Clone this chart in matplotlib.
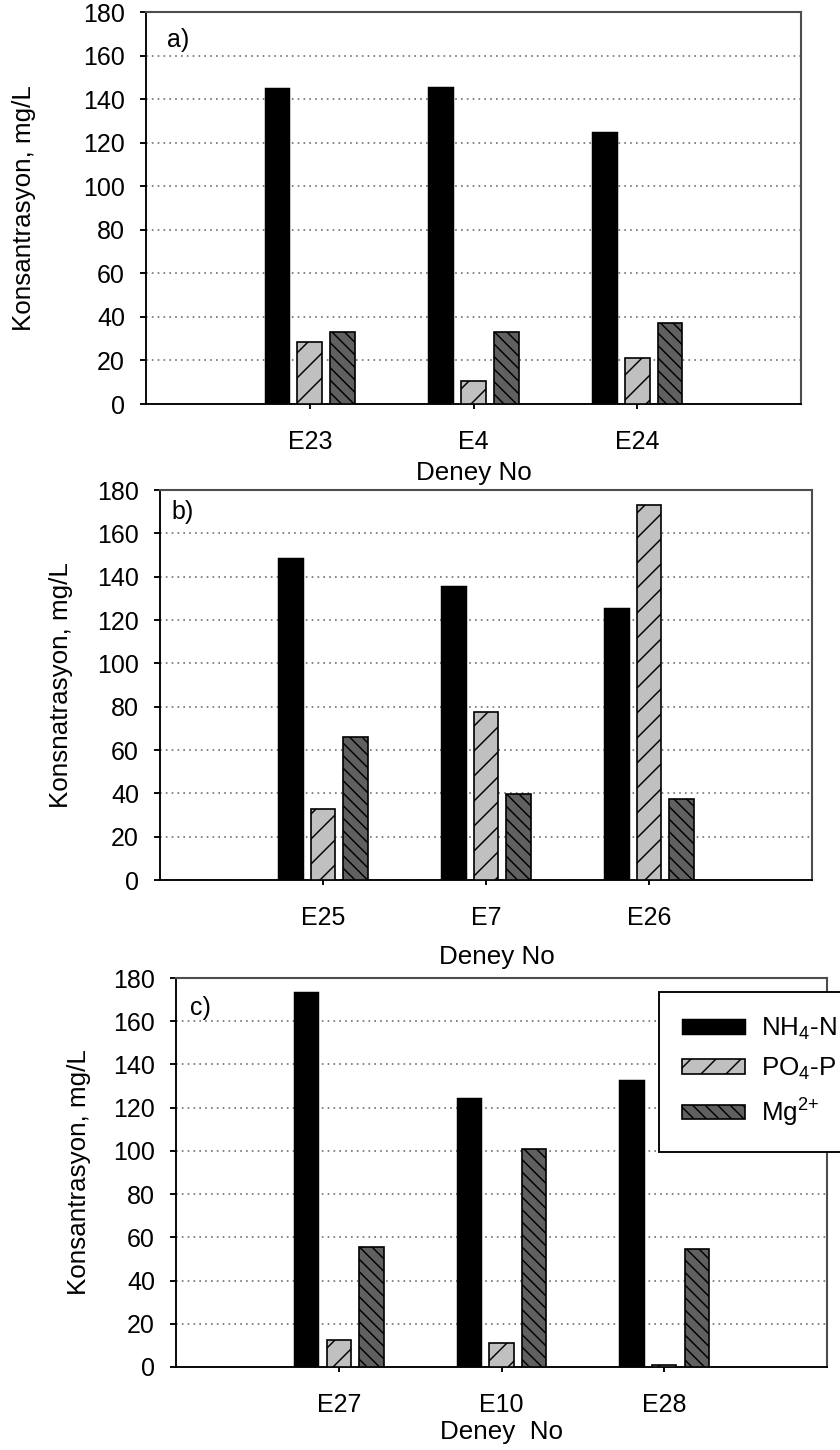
import numpy as np
import matplotlib.pyplot as plt

plt.rcParams['font.family'] = ['Liberation Sans', 'DejaVu Sans']
plt.rcParams['mathtext.fontset'] = 'custom'
plt.rcParams['mathtext.rm'] = 'Liberation Sans'
plt.rcParams['mathtext.it'] = 'Liberation Sans:italic'
plt.rcParams['mathtext.bf'] = 'Liberation Sans:bold'
plt.rcParams['hatch.linewidth'] = 0.7

series_names = ['NH$_4$-N', 'PO$_4$-P', 'Mg$^{2{+}}$']

# panel a
deney_a = ['E23', 'E4', 'E24']
nh4_a = [145.0, 145.6, 124.9]
po4_a = [28.5, 10.6, 21.1]
mg_a = [33.0, 33.0, 37.2]

# panel b
deney_b = ['E25', 'E7', 'E26']
nh4_b = [148.6, 135.7, 125.5]
po4_b = [32.8, 77.5, 173.0]
mg_b = [66.0, 39.7, 37.4]

# panel c
deney_c = ['E27', 'E10', 'E28']
nh4_c = [173.5, 124.5, 132.8]
po4_c = [12.5, 11.1, 0.7]
mg_c = [55.5, 100.9, 54.6]

W, H = 840, 1450


def draw_panel(rect, deney, nh4, po4, mg, letter, letter_xy, ylabel, ylabel_x,
               xlabel, xlabel_xy):
    ax = fig.add_axes([rect[0] / W, 1 - rect[3] / H, (rect[2] - rect[0]) / W,
                       (rect[3] - rect[1]) / H])
    x = np.arange(1, len(deney) + 1)
    ax.bar(x - 0.2, nh4, 0.15, color='black', edgecolor='black', linewidth=0.7,
           label=series_names[0], zorder=3)
    ax.bar(x, po4, 0.15, color='#c0c0c0', edgecolor='black', linewidth=0.8,
           hatch='//', label=series_names[1], zorder=3)
    ax.bar(x + 0.2, mg, 0.15, color='#606060', edgecolor='black', linewidth=0.8,
           hatch='\\\\\\\\', label=series_names[2], zorder=3)

    ax.set_xlim(0, 4)
    ax.set_ylim(0, 180)
    ax.set_yticks(np.arange(0, 181, 20))
    ax.set_xticks(x)
    ax.set_xticklabels(deney)
    ax.yaxis.grid(True, linestyle=(0, (1, 2.5)), color='#707070', linewidth=0.8)
    ax.set_axisbelow(True)

    ax.tick_params(axis='y', direction='out', length=2.9, width=0.9, pad=7.2,
                   labelsize=12)
    ax.tick_params(axis='x', direction='out', length=2.4, width=0.9, pad=10,
                   labelsize=12)
    for s in ['left', 'bottom']:
        ax.spines[s].set_linewidth(0.9)
        ax.spines[s].set_color('black')
    for s in ['top', 'right']:
        ax.spines[s].set_linewidth(1.0)
        ax.spines[s].set_color('#4d4d4d')

    ax.set_ylabel(ylabel, fontsize=12.5)
    ax.yaxis.set_label_coords(ylabel_x, 0.5)
    ax.set_xlabel(xlabel, fontsize=12.5)
    ax.xaxis.set_label_coords(xlabel_xy[0], xlabel_xy[1])
    ax.text(letter_xy[0], letter_xy[1], letter, transform=ax.transAxes,
            fontsize=12, ha='left', va='center')
    return ax


fig = plt.figure(figsize=(W / 150, H / 150), dpi=150)

ax_a = draw_panel((146, 12, 801, 404), deney_a, nh4_a, po4_a, mg_a,
                  'a)', (0.032, 0.929), 'Konsantrasyon, mg/L', -0.168,
                  'Deney No', (0.5, -0.145))
ax_b = draw_panel((160, 490, 812, 880), deney_b, nh4_b, po4_b, mg_b,
                  'b)', (0.017, 0.944), 'Konsnatrasyon, mg/L', -0.133,
                  'Deney No', (0.517, -0.167))
ax_c = draw_panel((176, 978, 827, 1367), deney_c, nh4_c, po4_c, mg_c,
                  'c)', (0.0215, 0.923), 'Konsantrasyon, mg/L', -0.131,
                  'Deney  No', (0.5, -0.136))

leg = ax_c.legend(loc='upper left', bbox_to_anchor=(0.742, 0.964),
                  borderaxespad=0, fontsize=12.5, frameon=True, fancybox=False,
                  edgecolor='black', framealpha=1, handlelength=2.4,
                  handleheight=0.5, handletextpad=0.6, borderpad=0.9,
                  labelspacing=0.55)
leg.get_frame().set_linewidth(0.9)

fig.savefig('out.png', dpi=150)
